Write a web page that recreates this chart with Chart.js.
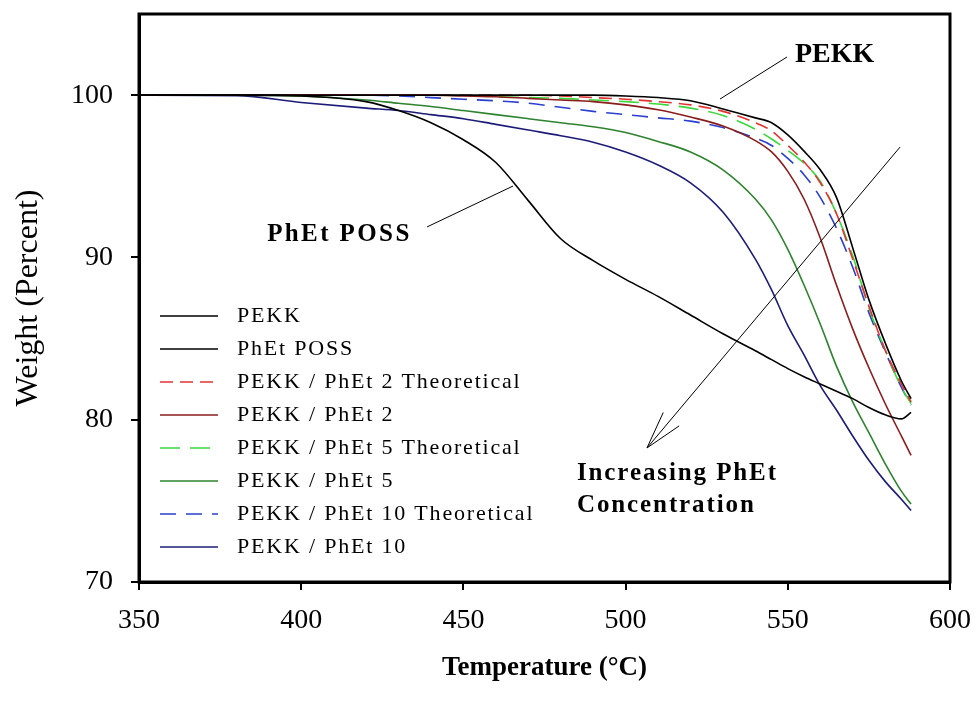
<!DOCTYPE html>
<html>
<head>
<meta charset="utf-8">
<script src="https://cdn.jsdelivr.net/npm/chart.js@4"></script>
<style>
  html, body { margin: 0; padding: 0; background: #fff; }
  #wrap { width: 976px; height: 709px; }
</style>
</head>
<body>
<div id="wrap"><canvas id="tga-chart" width="976" height="709"></canvas></div>
<script>
  // Temperature grid (deg C) shared by all curves
  const temps = [350, 380, 400, 420, 430, 440, 450, 460, 470, 480, 490, 500, 510, 520, 530, 540, 545, 550, 555, 560, 565, 570, 575, 580, 585, 588];

  // Weight (%) for each curve
  const pekk       = [100, 100, 100, 100, 100, 100, 100, 100, 100, 100, 100, 99.95, 99.85, 99.65, 99.15, 98.6, 98.3, 97.55, 96.55, 95.4, 93.7, 90.6, 87.4, 84.75, 82.4, 81.3];
  const phetPoss   = [100, 100, 99.95, 99.6, 99.05, 98.3, 97.25, 95.85, 93.5, 91.15, 89.8, 88.65, 87.6, 86.45, 85.3, 84.25, 83.7, 83.15, 82.65, 82.2, 81.75, 81.3, 80.75, 80.3, 80.05, 80.45];
  const pekk2Theo  = [100, 100, 100, 100, 100, 100, 100, 100, 100, 99.95, 99.85, 99.75, 99.6, 99.4, 99.0, 98.3, 97.8, 96.9, 95.9, 94.6, 92.7, 89.9, 87.0, 84.3, 82.2, 81.1];
  const pekk2      = [100, 100, 100, 100, 100, 100, 99.95, 99.9, 99.8, 99.7, 99.6, 99.4, 99.1, 98.65, 98.1, 97.2, 96.5, 95.3, 93.6, 91.2, 88.3, 85.6, 83.2, 81.0, 79.0, 77.8];
  const pekk5Theo  = [100, 100, 100, 100, 100, 100, 99.97, 99.9, 99.85, 99.8, 99.7, 99.6, 99.45, 99.2, 98.75, 97.9, 97.3, 96.6, 95.8, 94.7, 92.7, 90.1, 86.9, 84.3, 82.0, 81.0];
  const pekk5      = [100, 100, 99.95, 99.7, 99.5, 99.3, 99.05, 98.8, 98.55, 98.3, 98.05, 97.7, 97.15, 96.5, 95.4, 93.6, 92.3, 90.5, 88.3, 85.9, 83.3, 81.1, 79.2, 77.3, 75.6, 74.8];
  const pekk10Theo = [100, 100, 100, 100, 99.95, 99.85, 99.75, 99.65, 99.5, 99.25, 99.0, 98.8, 98.6, 98.4, 98.0, 97.35, 96.9, 96.1, 95.1, 93.7, 91.8, 89.4, 86.6, 84.2, 82.0, 80.9];
  const pekk10     = [100, 99.97, 99.55, 99.2, 99.05, 98.8, 98.55, 98.2, 97.85, 97.5, 97.1, 96.5, 95.7, 94.6, 92.8, 89.9, 88.0, 85.8, 84.0, 82.1, 80.6, 79.0, 77.5, 76.2, 75.1, 74.4];

  const seriesLabels = [
    'PEKK',
    'PhEt POSS',
    'PEKK / PhEt 2 Theoretical',
    'PEKK / PhEt 2',
    'PEKK / PhEt 5 Theoretical',
    'PEKK / PhEt 5',
    'PEKK / PhEt 10 Theoretical',
    'PEKK / PhEt 10'
  ];
  const seriesValues = [pekk, phetPoss, pekk2Theo, pekk2, pekk5Theo, pekk5, pekk10Theo, pekk10];
  const seriesColors = ['#000000', '#000000', '#e33333', '#8b1c1c', '#3ad83a', '#2e832e', '#2a3fd0', '#1c1c78'];
  const seriesDashes = [[], [], [13, 7], [], [20, 10], [], [16, 10], []];

  const xTicks = [350, 400, 450, 500, 550, 600];
  const yTicks = [70, 80, 90, 100];

  const SERIF = "'Liberation Serif', 'Times New Roman', serif";

  function toPoints(values) {
    return temps.map((t, i) => ({ x: t, y: values[i] }));
  }

  // keep the plot box where the reference has it: no extra label overhang padding
  function noOverhang(s) {
    s.paddingTop = 0;
    s.paddingBottom = 0;
    s.paddingLeft = 0;
    s.paddingRight = 0;
  }

  /**
   * White background plus a closed frame round the plot area
   */
  const framePlugin = {
    id: 'frame',
    beforeDraw(chart) {
      const ctx = chart.ctx;
      ctx.save();
      ctx.fillStyle = '#ffffff';
      ctx.fillRect(0, 0, chart.width, chart.height);
      ctx.restore();
    },
    afterDraw(chart) {
      const { ctx, chartArea: a } = chart;
      ctx.save();
      ctx.strokeStyle = '#000';
      ctx.lineWidth = 3;
      ctx.strokeRect(a.left, a.top, a.right - a.left, a.bottom - a.top);
      ctx.restore();
    }
  };

  /**
   * Legend drawn inside the plot, lower left
   */
  const innerLegendPlugin = {
    id: 'innerLegend',
    afterDatasetsDraw(chart) {
      const { ctx, chartArea: a } = chart;
      ctx.save();
      ctx.font = '22px ' + SERIF;
      ctx.textBaseline = 'middle';
      ctx.fillStyle = '#000';
      chart.data.datasets.forEach((ds, i) => {
        const rowY = a.top + 302 + i * 33;
        ctx.strokeStyle = ds.borderColor;
        ctx.lineWidth = ds.borderWidth;
        ctx.setLineDash(ds.borderDash || []);
        ctx.beginPath();
        ctx.moveTo(a.left + 21, rowY);
        ctx.lineTo(a.left + 79, rowY);
        ctx.stroke();
        ctx.setLineDash([]);
        ctx.letterSpacing = '1.8px';
        ctx.fillText(ds.label, a.left + 98, rowY);
        ctx.letterSpacing = '0px';
      });
      ctx.restore();
    }
  };

  /**
   * Text labels, leader lines and the concentration arrow (data coordinates)
   */
  const annotationPlugin = {
    id: 'notes',
    afterDatasetsDraw(chart) {
      const { ctx } = chart;
      const xs = chart.scales.x;
      const ys = chart.scales.y;
      const px = (t) => xs.getPixelForValue(t);
      const py = (v) => ys.getPixelForValue(v);

      ctx.save();
      ctx.strokeStyle = '#000';
      ctx.fillStyle = '#000';
      ctx.lineWidth = 1;

      // PEKK label
      ctx.beginPath();
      ctx.moveTo(px(529.1), py(99.76));
      ctx.lineTo(px(549.75), py(102.35));
      ctx.stroke();
      ctx.font = 'bold 28px ' + SERIF;
      ctx.textBaseline = 'middle';
      ctx.fillText('PEKK', px(552.2), py(102.47));

      // PhEt POSS label
      ctx.beginPath();
      ctx.moveTo(px(438.8), py(91.88));
      ctx.lineTo(px(465.3), py(94.4));
      ctx.stroke();
      ctx.font = 'bold 25px ' + SERIF;
      ctx.letterSpacing = '2.4px';
      ctx.fillText('PhEt POSS', px(389.5), py(91.38));

      // arrow
      const tailX = px(584.6), tailY = py(96.8);
      const tipX = px(506.6), tipY = py(78.26);
      ctx.beginPath();
      ctx.moveTo(tailX, tailY);
      ctx.lineTo(tipX, tipY);
      ctx.stroke();
      const ang = Math.atan2(tailY - tipY, tailX - tipX);
      [-0.27, 0.27].forEach((d) => {
        ctx.beginPath();
        ctx.moveTo(tipX, tipY);
        ctx.lineTo(tipX + 39 * Math.cos(ang + d), tipY + 39 * Math.sin(ang + d));
        ctx.stroke();
      });

      ctx.font = 'bold 25px ' + SERIF;
      ctx.letterSpacing = '1.9px';
      ctx.fillText('Increasing PhEt', px(485), py(76.66));
      ctx.fillText('Concentration', px(485), py(74.69));
      ctx.letterSpacing = '0px';
      ctx.restore();
    }
  };

  const datasets = seriesLabels.map((label, i) => ({
    label: label,
    data: toPoints(seriesValues[i]),
    borderColor: seriesColors[i],
    borderWidth: 1.6,
    borderDash: seriesDashes[i],
    pointRadius: 0,
    fill: false,
    cubicInterpolationMode: 'monotone'
  }));

  const ctx = document.getElementById('tga-chart').getContext('2d');
  new Chart(ctx, {
    type: 'line',
    data: { datasets },
    options: {
      responsive: false,
      animation: false,
      layout: { padding: { top: 14, right: 26, left: 0, bottom: 0 } },
      scales: {
        x: {
          type: 'linear',
          min: 350,
          max: 600,
          afterFit: (s) => { s.height = 127; noOverhang(s); },
          afterBuildTicks: (s) => { s.ticks = xTicks.map(v => ({ value: v })); },
          ticks: {
            color: '#000',
            font: { family: SERIF, size: 28 },
            padding: 14,
            maxRotation: 0
          },
          grid: { drawOnChartArea: false, drawTicks: true, tickLength: 8, color: '#000', lineWidth: 2 },
          border: { display: true, color: '#000', width: 3 },
          title: {
            display: true,
            text: 'Temperature (\u00B0C)',
            color: '#000',
            font: { family: SERIF, size: 27, weight: 'bold' },
            padding: { top: 25, bottom: 25 }
          }
        },
        y: {
          min: 70,
          max: 105,
          afterFit: (s) => { s.width = 139; noOverhang(s); },
          afterBuildTicks: (s) => { s.ticks = yTicks.map(v => ({ value: v })); },
          ticks: {
            color: '#000',
            font: { family: SERIF, size: 28 },
            padding: 18
          },
          grid: { drawOnChartArea: false, drawTicks: true, tickLength: 8, color: '#000', lineWidth: 2 },
          border: { display: true, color: '#000', width: 3 },
          title: {
            display: true,
            text: 'Weight (Percent)',
            color: '#000',
            font: { family: SERIF, size: 32 },
            padding: { top: 9, bottom: 9 }
          }
        }
      },
      plugins: {
        legend: { display: false },
        tooltip: { enabled: false }
      }
    },
    plugins: [framePlugin, innerLegendPlugin, annotationPlugin]
  });
</script>
</body>
</html>
